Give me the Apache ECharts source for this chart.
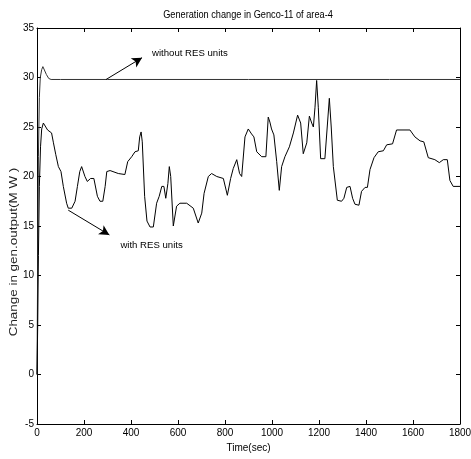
<!DOCTYPE html>
<html><head><meta charset="utf-8">
<script src="https://cdn.jsdelivr.net/npm/echarts@6/dist/echarts.min.js"></script>
<style>html,body{margin:0;padding:0;background:#fff}#c{width:471px;height:459px}</style>
</head><body><div id="c"></div>
<script>
const titleText = 'Generation change in Genco-11 of area-4';
const yName = 'Change in gen.output(M W )';
const xName = 'Time(sec)';
const xTicks = [0,200,400,600,800,1000,1200,1400,1600,1800];
const yTicks = [-5,0,5,10,15,20,25,30,35];

const tWithout = [0,3,6,10,14,20,25,32,40,50,60,100,300,600,900,1200,1500,1800];
const vWithout = [0,12,22,28,30,30.8,31.1,30.9,30.3,29.9,29.8,29.8,29.8,29.8,29.8,29.8,29.8,29.8];

const tWith = [0,3,6,10,15,20,27,45,62,70,80,91,102,112,126,133,148,162,172,182,190,195,204,214,228,242,257,268,280,290,297,311,346,374,386,403,417,431,437,443,448,458,468,481,495,509,520,531,540,548,557,563,569,580,594,608,637,665,686,701,711,729,743,765,793,810,824,835,850,862,871,885,899,913,923,935,956,974,984,991,998,1008,1020,1031,1041,1055,1074,1091,1109,1122,1133,1148,1159,1169,1176,1183,1190,1197,1207,1225,1235,1244,1252,1261,1278,1296,1306,1318,1332,1343,1353,1370,1381,1396,1406,1417,1434,1452,1474,1488,1513,1530,1587,1608,1630,1646,1665,1693,1712,1729,1746,1757,1771,1800];
const vWith = [0,5,12,19,23,24.8,25.4,24.7,24.4,23.4,22.2,21.0,20.5,19.0,17.3,16.8,16.8,17.5,19.0,20.5,21.0,20.9,20.0,19.5,19.8,19.8,18.0,17.5,17.5,19.0,20.5,20.6,20.3,20.2,21.5,22.0,22.5,22.6,24.0,24.5,23.5,18.0,15.5,14.9,14.9,17.3,18.0,19.0,19.0,17.8,19.3,21.0,20.0,15.0,17.0,17.3,17.3,16.8,15.3,16.3,18.3,20.0,20.3,20.0,19.8,18.1,19.8,20.8,21.7,20.3,20.0,24.0,24.8,24.3,24.0,22.5,22.0,22.0,26.0,25.5,24.8,24.2,21.5,18.6,21.0,22.0,23.0,24.4,26.2,25.4,22.3,23.4,26.1,25.4,25.0,27.0,29.7,27.0,21.8,21.8,25.0,27.9,25.0,21.0,17.6,17.5,17.8,18.9,19.0,17.8,17.2,17.1,18.5,18.9,18.9,20.7,21.9,22.5,22.6,23.2,23.3,24.7,24.7,24.0,23.6,23.5,21.9,21.7,21.4,21.7,21.7,19.6,19.0,19.0];

const arrowWithout = [[294,29.8],[447,32.0]];
const arrowWith = [[133,16.6],[308,14.1]];
const labelWithout = 'without RES units';
const labelWith = 'with RES units';

const FONT = '"Liberation Sans",Arial,sans-serif';
const chart = echarts.init(document.getElementById('c'), null, {renderer:'canvas'});
const axisCommon = {
  type:'value',
  axisLine:{show:true,onZero:false,lineStyle:{color:'#000',width:1}},
  axisTick:{show:true,inside:true,length:4,lineStyle:{color:'#000'}},
  splitLine:{show:false}
};
function pairs(t,v){return t.map((x,i)=>[x,v[i]]);}
const arrowStyle = {color:'#000',width:1,type:'solid'};
chart.setOption({
  animation:false,
  grid:{left:37,right:11,top:28,bottom:35,containLabel:false,outerBoundsMode:'none'},
  xAxis:[
    Object.assign({},axisCommon,{min:0,max:1800,interval:200,position:'bottom',
      name:xName,nameLocation:'middle',nameGap:14,
      nameTextStyle:{fontFamily:FONT,fontSize:10,color:'#000'},
      axisLabel:{fontFamily:FONT,fontSize:10,color:'#000',margin:4,formatter:v=>String(v)}}),
    Object.assign({},axisCommon,{min:0,max:1800,interval:200,position:'top',axisLabel:{show:false}})
  ],
  yAxis:[
    Object.assign({},axisCommon,{min:-5,max:35,interval:5,position:'left',
      axisLabel:{fontFamily:FONT,fontSize:10,color:'#000',margin:3}}),
    Object.assign({},axisCommon,{min:-5,max:35,interval:5,position:'right',axisLabel:{show:false}})
  ],
  series:[
    {type:'line',data:pairs(tWithout,vWithout),showSymbol:false,symbol:'none',
     lineStyle:{color:'#333',width:1},
     markLine:{silent:true,symbol:['none','arrow'],symbolSize:[8,10],lineStyle:arrowStyle,
       label:{show:false},
       data:[[{coord:arrowWithout[0]},{coord:arrowWithout[1]}]]}},
    {type:'line',data:pairs(tWith,vWith),showSymbol:false,symbol:'none',
     lineStyle:{color:'#000',width:1},
     markLine:{silent:true,symbol:['none','arrow'],symbolSize:[8,10],lineStyle:arrowStyle,
       label:{show:false},
       data:[[{coord:arrowWith[0]},{coord:arrowWith[1]}]]}}
  ]
});
const p = chart.convertToPixel({xAxisIndex:0,yAxisIndex:0}, arrowWith[1]);
const q = chart.convertToPixel({xAxisIndex:0,yAxisIndex:0}, arrowWithout[1]);
chart.setOption({
  graphic:[
    {type:'text',x:248,y:15,scaleX:0.8,style:{text:titleText,font:'11.5px '+FONT,fill:'#000',align:'center',verticalAlign:'middle'}},
    {type:'text',x:14,y:252,rotation:Math.PI/2,scaleX:1.22,style:{text:yName,font:'11px '+FONT,fill:'#222',align:'center',verticalAlign:'middle'}},
    {type:'text',x:q[0]+10,y:q[1]-9,style:{text:labelWithout,font:'9.6px '+FONT,fill:'#000'}},
    {type:'text',x:p[0]+11,y:p[1]+5,style:{text:labelWith,font:'9.6px '+FONT,fill:'#000'}}
  ]
});
</script></body></html>
